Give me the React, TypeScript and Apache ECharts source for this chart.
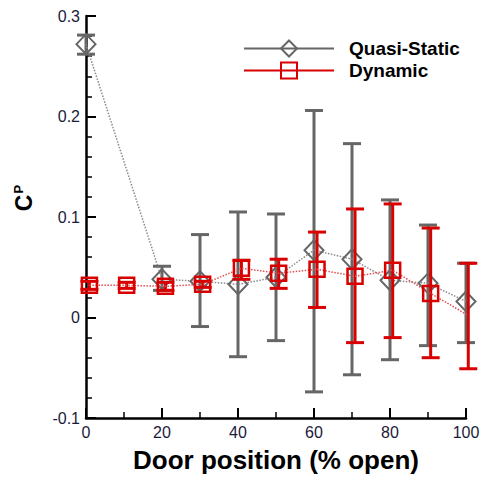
import React, { useEffect, useRef } from "react";
import * as echarts from "echarts";

// Door position (% open)
const quasiX = [0, 20, 30, 40, 50, 60, 70, 80, 90, 100];
const quasiCp = [0.272, 0.038, 0.036, 0.033, 0.04, 0.067, 0.058, 0.037, 0.034, 0.016];
const quasiLow = [0.262, 0.027, -0.009, -0.039, -0.023, -0.074, -0.057, -0.042, -0.028, -0.025];
const quasiHigh = [0.281, 0.051, 0.0825, 0.105, 0.103, 0.206, 0.173, 0.117, 0.092, 0.054];

const dynX = [0.9, 10.7, 20.9, 30.7, 40.9, 50.7, 60.8, 70.8, 80.7, 90.7, 100.6];
const dynCp = [0.032, 0.032, 0.031, 0.033, 0.049, 0.044, 0.048, 0.041, 0.047, 0.024, 0.002];
const dynLow = [0.028, 0.029, 0.027, 0.030, 0.038, 0.029, 0.010, -0.025, -0.02, -0.04, -0.051];
const dynHigh = [0.036, 0.035, 0.035, 0.036, 0.057, 0.058, 0.085, 0.108, 0.113, 0.089, 0.054];

const xTicks = [0, 20, 40, 60, 80, 100];
const yTicks = [-0.1, 0, 0.1, 0.2, 0.3];

const GRAY = "#666666";
const GRAY_LINE = "#8a8a8a";
const RED = "#d80000";
const RED_LINE = "#e05050";
const FONT = "Liberation Sans, Arial, sans-serif";

function errorBarSeries(xs: number[], lo: number[], hi: number[], color: string, z: number) {
  return {
    type: "custom",
    z,
    silent: true,
    data: xs.map((x, i) => [x, lo[i], hi[i]]),
    encode: { x: 0, y: [1, 2] },
    renderItem: (params: any, api: any) => {
      const x = api.value(0);
      const p1 = api.coord([x, api.value(1)]);
      const p2 = api.coord([x, api.value(2)]);
      const hw = 9;
      const style = { stroke: color, lineWidth: 3, fill: null };
      return {
        type: "group",
        children: [
          { type: "line", shape: { x1: p1[0], y1: p1[1], x2: p2[0], y2: p2[1] }, style },
          { type: "line", shape: { x1: p1[0] - hw, y1: p1[1], x2: p1[0] + hw, y2: p1[1] }, style },
          { type: "line", shape: { x1: p2[0] - hw, y1: p2[1], x2: p2[0] + hw, y2: p2[1] }, style },
        ],
      };
    },
  };
}

export default function App() {
  const ref = useRef<HTMLDivElement>(null);
  useEffect(() => {
    if (!ref.current) return;
    const chart = echarts.init(ref.current, null, { renderer: "svg" });
    chart.setOption({
      animation: false,
      textStyle: { fontFamily: FONT },
      grid: { left: 86, right: 18, top: 16, bottom: 57, containLabel: false },
      legend: {
        orient: "vertical",
        left: 243,
        top: 39,
        itemWidth: 90,
        itemHeight: 20,
        itemGap: 3,
        padding: 0,
        textStyle: { fontSize: 19, fontWeight: "bold", color: "#000", fontFamily: FONT, padding: [0, 0, 0, 10] },
        data: [
          { name: "Quasi-Static", lineStyle: { type: "solid", width: 2, color: GRAY } },
          { name: "Dynamic", lineStyle: { type: "solid", width: 2, color: RED } },
        ],
      },
      xAxis: {
        type: "value",
        min: 0,
        max: 100,
        interval: 20,
        name: "Door position (% open)",
        nameLocation: "middle",
        nameGap: 29,
        nameTextStyle: { fontSize: 26, fontWeight: "bold", color: "#000", fontFamily: FONT },
        axisLine: { show: true, onZero: false, lineStyle: { color: "#000", width: 2.5 } },
        axisTick: { show: true, inside: true, length: 10, lineStyle: { color: "#000", width: 2 } },
        minorTick: { show: true, splitNumber: 2, length: 6, lineStyle: { color: "#000", width: 1.5 } },
        splitLine: { show: false },
        axisLabel: {
          margin: 6,
          fontSize: 16,
          color: "#1b1b3a",
          fontFamily: FONT,
          formatter: (v: number) => (xTicks.includes(v) ? String(v) : ""),
        },
      },
      yAxis: {
        type: "value",
        min: -0.1,
        max: 0.3,
        interval: 0.1,
        name: "{c|C}{p|P}",
        nameLocation: "middle",
        nameGap: 51,
        nameRotate: 90,
        nameTextStyle: {
          color: "#000",
          padding: [0, 0, 0, 38],
          rich: {
            c: { fontSize: 23, fontWeight: "bold", fontFamily: FONT, color: "#000" },
            p: { fontSize: 13, fontWeight: "bold", fontFamily: FONT, color: "#000", verticalAlign: "top", padding: [0, 0, 0, 1] },
          },
        },
        axisLine: { show: true, onZero: false, lineStyle: { color: "#000", width: 2.5 } },
        axisTick: { show: true, inside: true, length: 10, lineStyle: { color: "#000", width: 2 } },
        minorTick: { show: true, splitNumber: 5, length: 6, lineStyle: { color: "#000", width: 1.5 } },
        splitLine: { show: false },
        axisLabel: {
          margin: 6,
          fontSize: 16,
          color: "#1b1b3a",
          fontFamily: FONT,
          formatter: (v: number) => {
            const r = Math.round(v * 10) / 10;
            return yTicks.some((t) => Math.abs(t - r) < 1e-9) ? String(r) : "";
          },
        },
      },
      series: [
        errorBarSeries(quasiX, quasiLow, quasiHigh, GRAY, 2),
        {
          name: "Quasi-Static",
          type: "line",
          z: 3,
          data: quasiX.map((x, i) => [x, quasiCp[i]]),
          symbol: "diamond",
          symbolSize: [19, 20],
          showAllSymbol: true,
          lineStyle: { color: GRAY_LINE, width: 1.5, type: "dotted" },
          itemStyle: { color: "rgba(255,255,255,0)", borderColor: GRAY, borderWidth: 2 },
        },
        errorBarSeries(dynX, dynLow, dynHigh, RED, 4),
        {
          name: "Dynamic",
          type: "line",
          z: 5,
          data: dynX.map((x, i) => [x, dynCp[i]]),
          symbol: "rect",
          symbolSize: 15,
          showAllSymbol: true,
          lineStyle: { color: RED_LINE, width: 1.5, type: "dotted" },
          itemStyle: { color: "rgba(255,255,255,0)", borderColor: RED, borderWidth: 2.5 },
        },
      ],
    });
    return () => chart.dispose();
  }, []);
  return <div ref={ref} style={{ width: 484, height: 478, position: "absolute", left: 0, top: 0 }} />;
}
